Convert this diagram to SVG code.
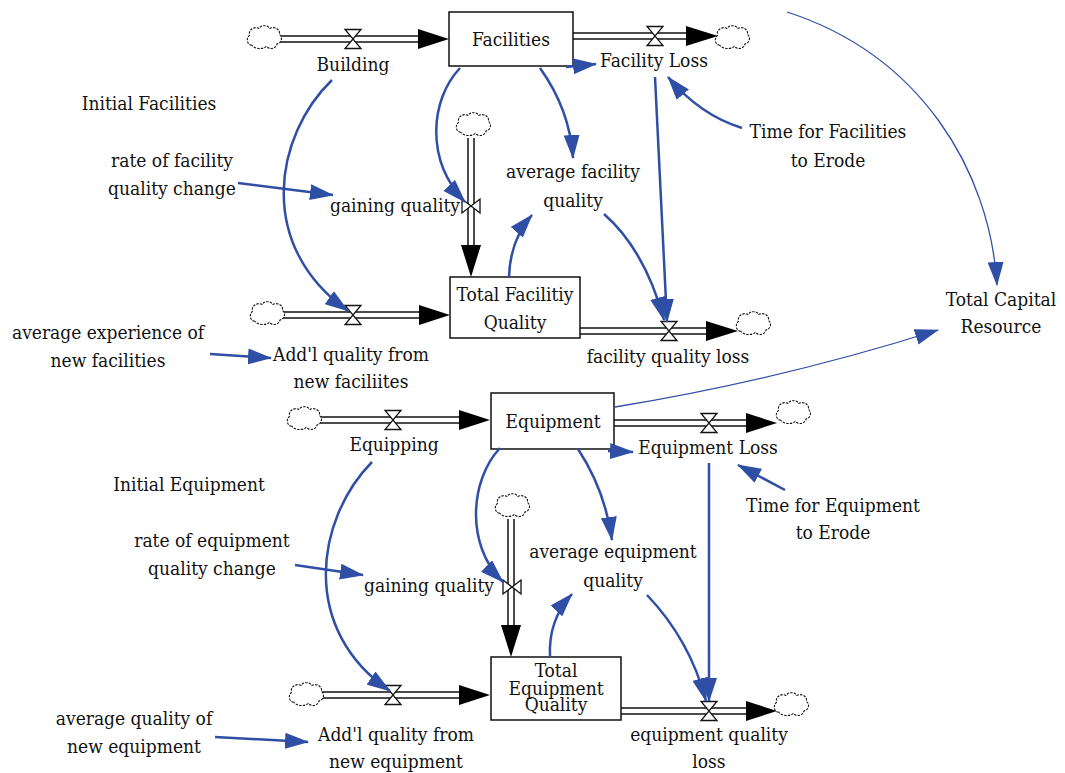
<svg xmlns="http://www.w3.org/2000/svg" width="1065" height="773" viewBox="0 0 1065 773">
<style>
text{font-family:"DejaVu Serif Condensed","DejaVu Serif","Liberation Serif",serif;font-stretch:condensed;font-size:19px;fill:#111;text-anchor:middle}
.box{fill:#fff;stroke:#111;stroke-width:1.5}
.po{stroke:#111;stroke-width:7.5;fill:none}
.pi{stroke:#fff;stroke-width:4.5;fill:none}
.ah{fill:#000}
.cloud{fill:#fff;stroke:#111;stroke-width:0.9;stroke-dasharray:2 1}
.valve{fill:#fff;stroke:#111;stroke-width:1.3}
.c{fill:none;stroke:#2F4FA6;stroke-width:2.5;marker-end:url(#bh)}
.t{fill:none;stroke:#2F4FA6;stroke-width:1.3;marker-end:url(#bh)}
</style>
<defs>
<marker id="bh" markerUnits="userSpaceOnUse" viewBox="0 0 24 16" markerWidth="24" markerHeight="16" refX="23" refY="8" orient="auto"><path d="M0,0 L24,8 L0,16 z" fill="#2F4FA6"/></marker>
<path id="cl" d="M -11,6 c -4,0 -5,-6 -2,-8 c -1,-5 4,-8 8,-6 c 2,-3 7,-3 9,0 c 4,-2 9,1 8,5 c 3,2 2,7 -2,8 c -1,4 -6,5 -9,2 c -3,3 -10,2 -12,-1 z"/>
<path id="vh" d="M -8,-9.5 L 8,-9.5 L -8,9.5 L 8,9.5 Z"/>
<path id="vv" d="M -9,-7 L -9,7 L 9,-7 L 9,7 Z"/>
</defs>
<rect width="1065" height="773" fill="#fff"/>

<g id="pipes">
<path class="po" d="M280,39 H420 M573,36 H688 M471,138 V247 M283,315 H420 M580,331 H707 M320,420 H461 M614,423 H748 M511,519 V627 M322,695 H461 M621,711 H748"/>
<path class="pi" d="M276,39 H424 M569,36 H692 M471,134 V251 M279,315 H424 M576,331 H711 M316,420 H465 M610,423 H752 M511,515 V631 M318,695 H465 M617,711 H752"/>
<path class="ah" d="M418,29 L449,39 L418,49 z M686,26 L718,36 L686,46 z M461,245 L471,277 L481,245 z M419,305 L450,315 L419,325 z M706,321 L738,331 L706,341 z M459,410 L490,420 L459,430 z M746,413 L777,423 L746,433 z M501,625 L511,657 L521,625 z M459,685 L490,695 L459,705 z M746,701 L777,711 L746,721 z"/>
</g>

<g id="clouds">
<use href="#cl" class="cloud" transform="translate(265,38) scale(1.2)"/>
<use href="#cl" class="cloud" transform="translate(733,38) scale(1.2)"/>
<use href="#cl" class="cloud" transform="translate(474,125) scale(1.2)"/>
<use href="#cl" class="cloud" transform="translate(268,314) scale(1.2)"/>
<use href="#cl" class="cloud" transform="translate(754,324) scale(1.2)"/>
<use href="#cl" class="cloud" transform="translate(305,419) scale(1.2)"/>
<use href="#cl" class="cloud" transform="translate(794,413) scale(1.2)"/>
<use href="#cl" class="cloud" transform="translate(513,506) scale(1.2)"/>
<use href="#cl" class="cloud" transform="translate(307,695) scale(1.2)"/>
<use href="#cl" class="cloud" transform="translate(792,705) scale(1.2)"/>
</g>

<g id="Facilities"><rect class="box" x="449" y="12" width="124" height="54"/><text x="511" y="46">Facilities</text></g>
<g id="TotalFacilityQuality"><rect class="box" x="450" y="277" width="130" height="61"/><text x="515" y="301">Total Facilitiy</text><text x="515" y="329">Quality</text></g>
<g id="Equipment"><rect class="box" x="491" y="393" width="123" height="56"/><text x="553" y="428">Equipment</text></g>
<g id="TotalEquipmentQuality"><rect class="box" x="491" y="657" width="130" height="63"/><text x="556" y="677">Total</text><text x="556" y="695">Equipment</text><text x="556" y="711">Quality</text></g>

<g id="Building"><use href="#vh" class="valve" x="353" y="39"/><text x="353" y="71">Building</text></g>
<g id="FacilityLoss"><use href="#vh" class="valve" x="655" y="36"/><text x="654" y="67">Facility Loss</text></g>
<g id="gainingQualityF"><use href="#vv" class="valve" x="471" y="206"/><text x="460" y="212" style="text-anchor:end">gaining quality</text></g>
<g id="AddlQualityF"><use href="#vh" class="valve" x="353" y="315"/><text x="351" y="361">Add'l quality from</text><text x="351" y="388">new faciliites</text></g>
<g id="facilityQualityLoss"><use href="#vh" class="valve" x="669" y="331"/><text x="668" y="363">facility quality loss</text></g>
<g id="Equipping"><use href="#vh" class="valve" x="393" y="420"/><text x="394" y="451">Equipping</text></g>
<g id="EquipmentLoss"><use href="#vh" class="valve" x="709" y="423"/><text x="708" y="454">Equipment Loss</text></g>
<g id="gainingQualityE"><use href="#vv" class="valve" x="512" y="587"/><text x="494" y="592" style="text-anchor:end">gaining quality</text></g>
<g id="AddlQualityE"><use href="#vh" class="valve" x="393" y="695"/><text x="396" y="741">Add'l quality from</text><text x="396" y="768">new equipment</text></g>
<g id="equipmentQualityLoss"><use href="#vh" class="valve" x="709" y="711"/><text x="709" y="741">equipment quality</text><text x="709" y="768">loss</text></g>

<g id="InitialFacilities"><text x="149" y="110">Initial Facilities</text></g>
<g id="rateFacility"><text x="172" y="167">rate of facility</text><text x="172" y="195">quality change</text></g>
<g id="avgFacilityQuality"><text x="573" y="178">average facility</text><text x="573" y="207">quality</text></g>
<g id="TimeFacilities"><text x="828" y="138">Time for Facilities</text><text x="828" y="167">to Erode</text></g>
<g id="TotalCapital"><text x="1001" y="306">Total Capital</text><text x="1001" y="333">Resource</text></g>
<g id="avgExperience"><text x="108" y="339">average experience of</text><text x="108" y="367">new facilities</text></g>
<g id="InitialEquipment"><text x="189" y="491">Initial Equipment</text></g>
<g id="rateEquipment"><text x="212" y="547">rate of equipment</text><text x="212" y="575">quality change</text></g>
<g id="avgEquipmentQuality"><text x="613" y="558">average equipment</text><text x="613" y="587">quality</text></g>
<g id="TimeEquipment"><text x="833" y="512">Time for Equipment</text><text x="833" y="539">to Erode</text></g>
<g id="avgQualityNewEquipment"><text x="134" y="725">average quality of</text><text x="134" y="753">new equipment</text></g>

<g id="connectors">
<path class="c" d="M332,80 C275,135 255,245 348,311"/>
<path class="c" d="M460,68 C430,100 425,160 465,202"/>
<path class="c" d="M540,68 Q570,110 573,158"/>
<path class="c" d="M566,67 L596,64"/>
<path class="c" d="M655,77 L667,322"/>
<path class="c" d="M604,214 Q645,250 664,320"/>
<path class="c" d="M509,277 Q510,240 532,215"/>
<path class="c" d="M742,128 Q700,115 668,77"/>
<path class="c" d="M238,183 L333,195"/>
<path class="c" d="M210,354 L271,358"/>
<path class="t" d="M787,12 C920,55 990,170 997,285"/>
<path class="t" d="M615,407 Q780,380 938,330"/>
<path class="c" d="M372,462 C315,520 300,630 390,691"/>
<path class="c" d="M500,448 C470,480 465,545 503,582"/>
<path class="c" d="M578,449 Q605,490 612,540"/>
<path class="c" d="M608,451 L633,452"/>
<path class="c" d="M709,463 L709,701"/>
<path class="c" d="M647,595 Q690,640 706,701"/>
<path class="c" d="M550,657 Q548,620 572,594"/>
<path class="c" d="M785,490 L738,465"/>
<path class="c" d="M295,565 L363,575"/>
<path class="c" d="M215,737 L308,742"/>
</g>
</svg>
